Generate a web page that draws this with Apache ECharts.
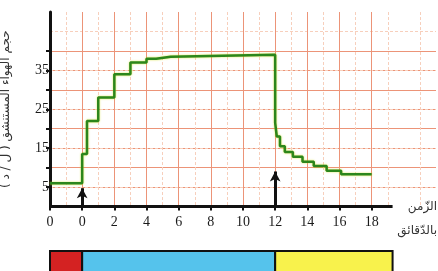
<!DOCTYPE html>
<html>
<head>
<meta charset="utf-8">
<script src="https://cdn.jsdelivr.net/npm/echarts@6/dist/echarts.min.js"></script>
<style>
  html, body { margin: 0; padding: 0; background: #fff; }
  #main { width: 438px; height: 271px; }
</style>
</head>
<body>
<div id="main"></div>
<script>
// minutes (step starts) and inhaled air volume (L/min)
const stepTimes = [-2, 0, 0.3, 1, 2, 3, 4, 4.6, 5.5, 12, 12.1, 12.3, 12.6, 13.1, 13.7, 14.4, 15.2, 16.1, 18];
const stepValues = [6, 13.5, 22, 28, 34, 37, 38, 38.5, 39, 21.5, 18, 15.5, 14, 12.8, 11.5, 10.4, 9.2, 8.3, 8.3];

const xTickValues = [-2, 0, 2, 4, 6, 8, 10, 12, 14, 16, 18];
const xTickLabels = ['0', '0', '2', '4', '6', '8', '10', '12', '14', '16', '18'];
const yTickValues = [5, 10, 15, 20, 25, 30, 35, 40];
const yLabelValues = [5, 15, 25, 35];

// arrows: [time, arrow top]
const arrowTimes = [0, 12];
const arrowTops = [4.7, 9];

// phases bar below the chart
const phaseStart = [-2, 0, 12];
const phaseEnd = [0, 12, 19.3];
const phaseColors = ['#d42222', '#55c3ec', '#f8f24c'];

const axisEnd = 19.3;

const lineData = stepTimes.map((t, i) => [t, stepValues[i]]);

const marks = [
  [{ coord: [-2, 0], symbol: 'none' }, { coord: [axisEnd, 0], symbol: 'none' }]
];
arrowTimes.forEach((t, i) => {
  marks.push([
    { coord: [t, 0], symbol: 'none' },
    { coord: [t, arrowTops[i]], symbol: 'arrow', symbolSize: [8, 10] }
  ]);
});

const chart = echarts.init(document.getElementById('main'));
chart.setOption({
  animation: false,
  backgroundColor: '#fff',
  grid: [
    { left: 50, right: 2, top: 12, bottom: 64.5, outerBoundsMode: 'none', containLabel: false },
    { left: 50, right: 2, top: 251, height: 26, outerBoundsMode: 'none', containLabel: false }
  ],
  xAxis: [
    {
      type: 'value', min: -2, max: 22, interval: 2,
      axisLine: { show: false },
      axisTick: {
        customValues: xTickValues, length: 4,
        lineStyle: { color: '#111', width: 2 }
      },
      axisLabel: {
        customValues: xTickValues,
        formatter: v => xTickLabels[xTickValues.indexOf(v)],
        color: '#1a1a1a', fontFamily: 'Liberation Serif', fontSize: 14, margin: 9
      },
      splitLine: { show: true, lineStyle: { color: '#ec9478', width: 1 } },
      minorTick: { show: false, splitNumber: 2 },
      minorSplitLine: { show: true, lineStyle: { color: '#f7cfbc', width: 1, type: [3, 2] } }
    },
    { gridIndex: 1, type: 'value', min: -2, max: 22, show: false }
  ],
  yAxis: [
    {
      type: 'value', min: 0, max: 50, interval: 10,
      name: 'حجم الهواء المستنشق ( ل / د )',
      nameLocation: 'middle', nameGap: 38, nameRotate: 90,
      nameTextStyle: { fontFamily: 'DejaVu Sans', fontSize: 12, color: '#333' },
      axisLine: { show: true, onZero: false, lineStyle: { color: '#111', width: 3 } },
      axisTick: {
        customValues: yTickValues, length: 4,
        lineStyle: { color: '#111', width: 2 }
      },
      axisLabel: {
        customValues: yLabelValues,
        color: '#1a1a1a', fontFamily: 'Liberation Serif', fontSize: 14, margin: 1
      },
      splitLine: { show: true, lineStyle: { color: '#ec9478', width: 1 } },
      minorTick: { show: false, splitNumber: 2 },
      minorSplitLine: { show: true, lineStyle: { color: '#f7cfbc', width: 1, type: [3, 2] } }
    },
    { gridIndex: 1, type: 'value', min: 0, max: 1, show: false }
  ],
  graphic: [
    {
      type: 'text', right: 1, top: 201,
      style: { text: 'الزّمن', font: '12px "DejaVu Sans"', fill: '#333', textAlign: 'right' }
    },
    {
      type: 'text', right: 1, top: 225,
      style: { text: 'بالدّقائق', font: '12px "DejaVu Sans"', fill: '#333', textAlign: 'right' }
    }
  ],
  series: [
    {
      type: 'line',
      step: 'end',
      data: lineData,
      showSymbol: false,
      lineStyle: {
        color: '#2c861c', width: 2.5,
        shadowColor: 'rgba(210,225,20,0.8)', shadowBlur: 2
      },
      markLine: {
        silent: true,
        label: { show: false },
        lineStyle: { color: '#111', width: 3, type: 'solid' },
        data: marks
      },
      z: 3
    },
    {
      type: 'custom',
      xAxisIndex: 1, yAxisIndex: 1,
      data: phaseStart.map((s, i) => [s, phaseEnd[i], i]),
      renderItem: (params, api) => {
        const p0 = api.coord([api.value(0), 1]);
        const p1 = api.coord([api.value(1), 0]);
        return {
          type: 'rect',
          shape: { x: p0[0], y: p0[1], width: p1[0] - p0[0], height: p1[1] - p0[1] },
          style: { fill: phaseColors[api.value(2)], stroke: '#111', lineWidth: 2 }
        };
      }
    }
  ]
});
</script>
</body>
</html>
